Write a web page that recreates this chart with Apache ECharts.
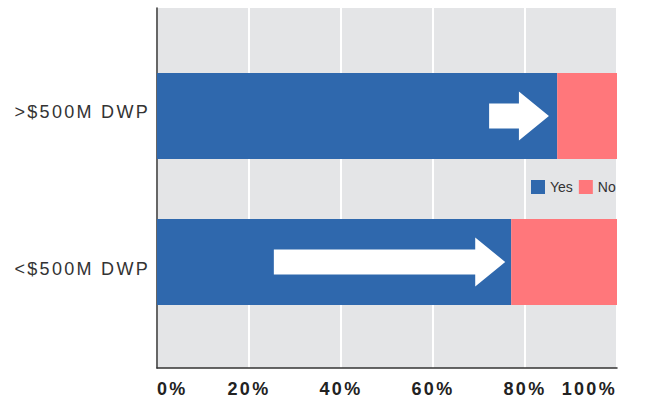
<!DOCTYPE html>
<html>
<head>
<meta charset="utf-8">
<script src="https://cdn.jsdelivr.net/npm/echarts@6/dist/echarts.min.js"></script>
<style>
  html, body { margin: 0; padding: 0; background: #fff; }
  #chart { width: 656px; height: 399px; }
  #chart text[style*="Liberation"] { letter-spacing: 2.3px; }
</style>
</head>
<body>
<div id="chart"></div>
<script>
// ---- data ----
const categories = ['<$500M DWP', '>$500M DWP'];
const yesValues = [77, 87];
const noValues = [23, 13];
const arrowStart = [25.4, 72.2];   // % where the white arrow begins
const arrowTip = [75.7, 85.2];     // % where the white arrow points
const xTicks = [0, 20, 40, 60, 80, 100];

const chart = echarts.init(document.getElementById('chart'), null, { renderer: 'svg' });

const arrowData = categories.map((c, i) => [arrowStart[i], arrowTip[i], i]);

const option = {
  animation: false,
  backgroundColor: '#ffffff',
  legend: {
    data: ['Yes', 'No'],
    left: 531,
    top: 180,
    padding: 0,
    itemWidth: 14,
    itemHeight: 14,
    itemGap: 6,
    icon: 'rect',
    textStyle: { fontFamily: 'Arial', fontSize: 14, color: '#333' }
  },
  grid: [
    { left: 157, top: 8, width: 460, height: 360, show: true, backgroundColor: '#e4e5e7', borderWidth: 0 },
    { left: 157, top: 43, width: 460, height: 292 },
    { left: 157, top: 33, width: 460, height: 315 }
  ],
  xAxis: [
    {
      gridIndex: 0, type: 'value', min: xTicks[0], max: xTicks[xTicks.length - 1], interval: 20,
      axisLine: { show: true, lineStyle: { color: '#333', width: 1.5 } },
      axisTick: { show: false },
      splitLine: { show: true, lineStyle: { color: '#ffffff', width: 2 } },
      axisLabel: {
        formatter: '{value}%', margin: 12,
        fontFamily: 'Liberation Sans', fontWeight: 'bold', fontSize: 18, color: '#222',
        alignMinLabel: 'left', alignMaxLabel: 'right'
      }
    },
    { gridIndex: 1, type: 'value', min: 0, max: 100, show: false },
    { gridIndex: 2, type: 'value', min: 0, max: 100, show: false }
  ],
  yAxis: [
    {
      gridIndex: 0, type: 'value', min: 0, max: 1,
      axisLine: { show: true, lineStyle: { color: '#333', width: 1.5 } },
      axisTick: { show: false }, axisLabel: { show: false }, splitLine: { show: false }
    },
    {
      gridIndex: 1, type: 'category', data: categories,
      axisLine: { show: false }, axisTick: { show: false }, splitLine: { show: false },
      axisLabel: { show: false }
    },
    {
      gridIndex: 2, type: 'category', data: categories,
      axisLine: { show: false }, axisTick: { show: false }, splitLine: { show: false },
      axisLabel: {
        margin: 7, fontFamily: 'Liberation Sans', fontSize: 18, color: '#333'
      }
    }
  ],
  series: [
    {
      name: 'Yes', type: 'bar', stack: 'total', xAxisIndex: 1, yAxisIndex: 1,
      barWidth: 86, data: yesValues, itemStyle: { color: '#2f68ad' }
    },
    {
      name: 'No', type: 'bar', stack: 'total', xAxisIndex: 1, yAxisIndex: 1,
      barWidth: 86, data: noValues, itemStyle: { color: '#ff777b' }
    },
    {
      name: 'arrows', type: 'custom', xAxisIndex: 1, yAxisIndex: 1, z: 10,
      data: arrowData,
      encode: { x: [0, 1], y: 2 },
      renderItem: function (params, api) {
        const s = api.coord([api.value(0), api.value(2)]);
        const t = api.coord([api.value(1), api.value(2)]);
        const cy = s[1];
        const headLen = 30, shaftHalf = 12.5, headHalf = 24.5;
        const bx = t[0] - headLen;
        return {
          type: 'polygon',
          shape: {
            points: [
              [s[0], cy - shaftHalf], [bx, cy - shaftHalf], [bx, cy - headHalf],
              [t[0], cy], [bx, cy + headHalf], [bx, cy + shaftHalf], [s[0], cy + shaftHalf]
            ]
          },
          style: { fill: '#ffffff' }
        };
      }
    }
  ]
};

chart.setOption(option);
</script>
</body>
</html>
